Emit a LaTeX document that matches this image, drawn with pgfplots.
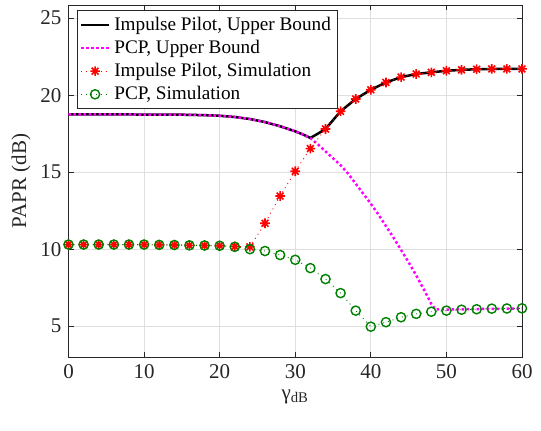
\documentclass[border=0pt]{standalone}
\usepackage{fontspec}
\setmainfont{Liberation Serif}
\usepackage{pgfplots}
\pgfplotsset{compat=1.18}
\definecolor{axgray}{RGB}{38,38,38}
\definecolor{gridgray}{RGB}{223,223,223}
\definecolor{simgreen}{RGB}{0,128,0}
\definecolor{mag}{RGB}{255,0,255}
\definecolor{sred}{RGB}{255,0,0}

% MATLAB style '*' marker: plus and cross on top of each other
\pgfdeclareplotmark{mstar}{%
  \pgfpathmoveto{\pgfqpoint{-\pgfplotmarksize}{0pt}}\pgfpathlineto{\pgfqpoint{\pgfplotmarksize}{0pt}}%
  \pgfpathmoveto{\pgfqpoint{0pt}{-\pgfplotmarksize}}\pgfpathlineto{\pgfqpoint{0pt}{\pgfplotmarksize}}%
  \pgfpathmoveto{\pgfqpoint{-0.707\pgfplotmarksize}{-0.707\pgfplotmarksize}}\pgfpathlineto{\pgfqpoint{0.707\pgfplotmarksize}{0.707\pgfplotmarksize}}%
  \pgfpathmoveto{\pgfqpoint{-0.707\pgfplotmarksize}{0.707\pgfplotmarksize}}\pgfpathlineto{\pgfqpoint{0.707\pgfplotmarksize}{-0.707\pgfplotmarksize}}%
  \pgfusepathqstroke}

\begin{document}
\begin{tikzpicture}
\begin{axis}[
    scale only axis,
    width=226.75pt,
    height=176pt,
    xmin=0, xmax=60,
    ymin=3, ymax=25.85,
    xtick={0,10,...,60},
    ytick={5,10,...,25},
    tick align=inside,
    xtick pos=both, ytick pos=both,
    major tick length=2.5pt,
    grid=major,
    major grid style={gridgray, line width=0.4pt},
    axis line style={axgray, line width=0.45pt},
    tick style={axgray, line width=0.45pt},
    ticklabel style={font=\fontsize{10.5}{12}\selectfont, text=axgray},
    /pgf/number format/assume math mode=true,
    xlabel={γ\textsubscript{dB}},
    ylabel={PAPR (dB)},
    label style={font=\fontsize{10.5}{12}\selectfont, text=axgray},
    xlabel style={yshift=1pt},
    ylabel style={yshift=-2pt},
    legend style={
        at={(rel axis cs:0.0187,0.986)}, anchor=north west,
        draw=axgray, line width=0.45pt, fill=white,
        font=\fontsize{9.6}{11.5}\selectfont,
        inner sep=1.2pt, row sep=-0.6pt,
        legend cell align=left,
    },
    legend image code/.code={
        \draw[#1] (0cm,0cm) -- (14pt,0cm);
        \draw[#1, only marks] plot coordinates {(7pt,0cm)};
    },
]
\coordinate (A) at (rel axis cs:0,0);
\coordinate (B) at (rel axis cs:1,1);

% Impulse Pilot, upper bound
\addplot[black, line width=1.25pt, no markers] coordinates {
(0,18.75) (5,18.75) (10,18.74) (15,18.73) (18,18.70) (20,18.66) (22,18.58)
(24,18.45) (26,18.25) (28,17.98) (30,17.65) (31,17.45) (32,17.22)
(33,17.50) (34,17.80) (36,18.95) (38,19.75) (40,20.35) (42,20.82) (44,21.17)
(46,21.37) (48,21.48) (50,21.58) (52,21.64) (54,21.68) (56,21.70) (58,21.70) (60,21.70)
};
\addlegendentry{Impulse Pilot, Upper Bound}

% PCP, upper bound
\addplot[mag, line width=1.25pt, dash pattern=on 1.25pt off 1.25pt, no markers] coordinates {
(0,18.75) (5,18.75) (10,18.74) (15,18.73) (18,18.70) (20,18.66) (22,18.58)
(24,18.45) (26,18.25) (28,17.98) (30,17.65) (31,17.45) (32,17.22)
(33,16.80) (34,16.35) (35,15.90) (36,15.45) (37,14.90) (38,14.25) (39,13.60)
(40,12.95) (41,12.25) (42,11.50) (43,10.75) (44,9.95) (45,9.15) (46,8.30)
(47,7.40) (48,6.45) (48.5,6.10) (50,6.08) (55,6.12) (60,6.15)
};
\addlegendentry{PCP, Upper Bound}

% Impulse Pilot, simulation
\addplot[sred, line width=0.45pt, dotted, mark=mstar, mark size=2.4pt,
    mark options={solid, line width=0.8pt}] coordinates {
(0,10.30) (2,10.30) (4,10.30) (6,10.30) (8,10.30) (10,10.30) (12,10.28)
(14,10.27) (16,10.25) (18,10.24) (20,10.22) (22,10.18) (24,10.15) (26,11.68)
(28,13.45) (30,15.06) (32,16.53) (34,17.80) (36,18.95) (38,19.75) (40,20.35)
(42,20.82) (44,21.17) (46,21.37) (48,21.48) (50,21.58) (52,21.64) (54,21.68)
(56,21.70) (58,21.70) (60,21.70)
};
\addlegendentry{Impulse Pilot, Simulation}

% PCP, simulation
\addplot[simgreen, line width=0.45pt, dotted, mark=o, mark size=2.3pt,
    mark options={solid, line width=0.7pt}] coordinates {
(0,10.30) (2,10.30) (4,10.30) (6,10.30) (8,10.30) (10,10.30) (12,10.28)
(14,10.27) (16,10.25) (18,10.24) (20,10.22) (22,10.15) (24,10.00) (26,9.88)
(28,9.62) (30,9.31) (32,8.77) (34,8.06) (36,7.15) (38,6.01) (40,4.97)
(42,5.26) (44,5.58) (46,5.80) (48,5.94) (50,6.01) (52,6.07) (54,6.10)
(56,6.14) (58,6.15) (60,6.16)
};
\addlegendentry{PCP, Simulation}
\end{axis}
\pgfresetboundingbox
\path ([shift={(-34.25pt,-36.5pt)}]A) rectangle ([shift={(9.5pt,2.5pt)}]B);
\end{tikzpicture}
\end{document}
